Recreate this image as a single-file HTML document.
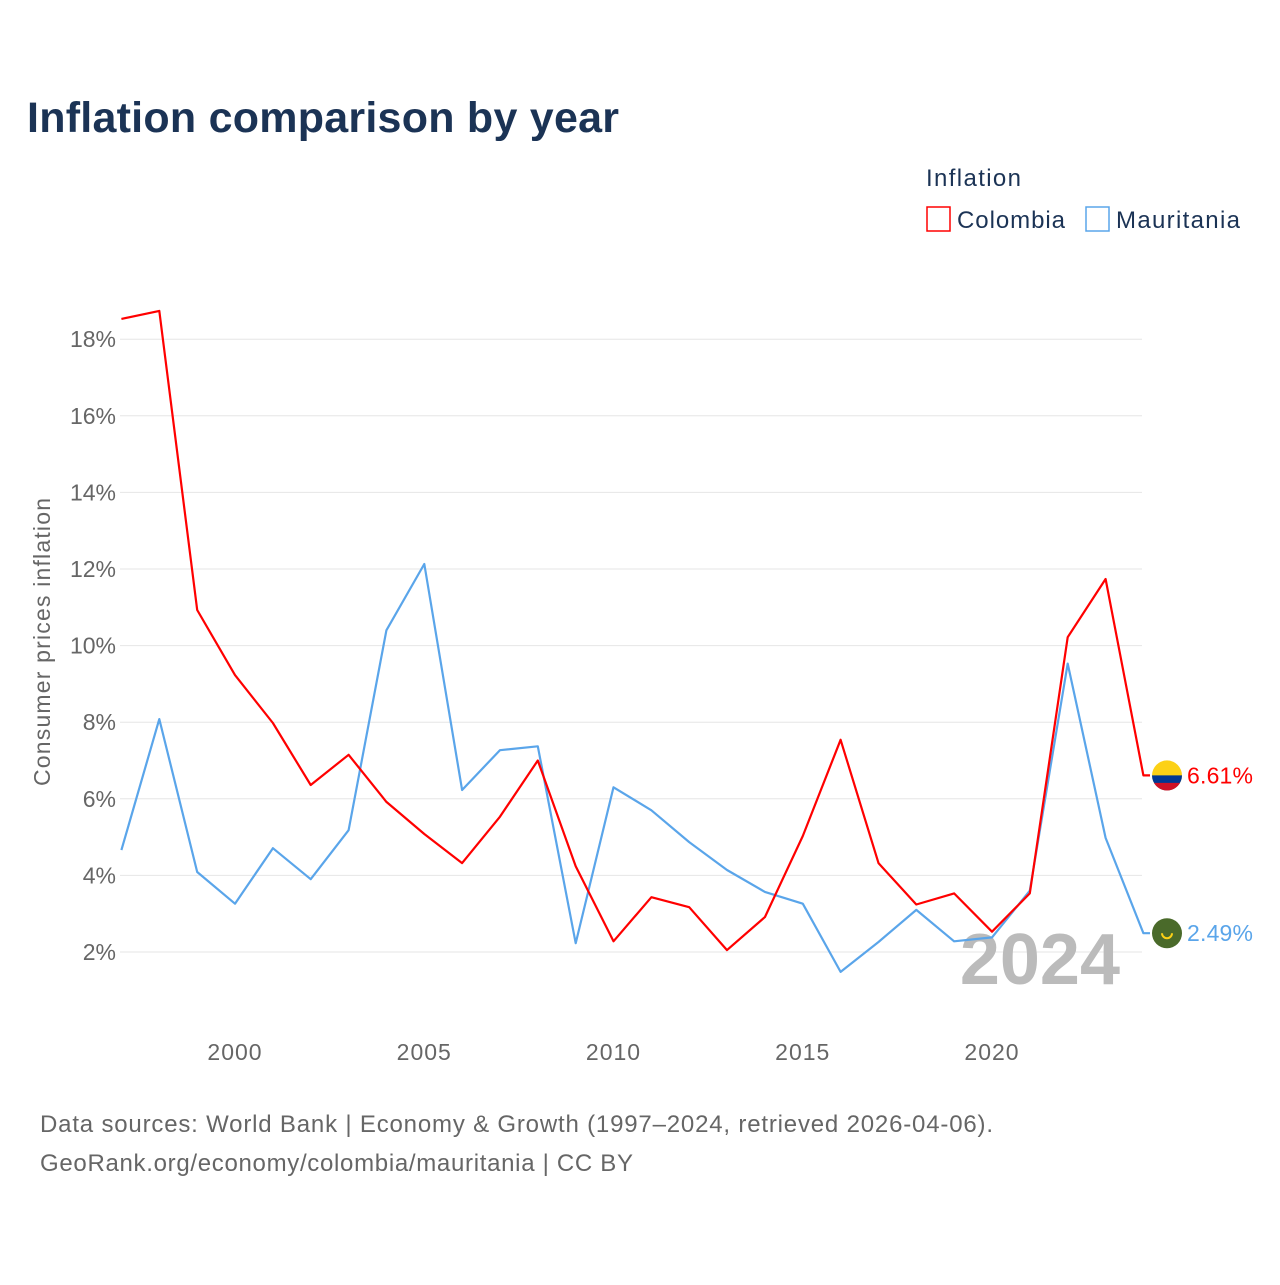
<!DOCTYPE html>
<html><head><meta charset="utf-8"><style>
body{margin:0;background:#fff;font-family:"Liberation Sans",sans-serif}
</style></head><body>
<svg width="1280" height="1280" xmlns="http://www.w3.org/2000/svg" font-family="Liberation Sans, sans-serif">
<text x="27" y="132" font-size="43" font-weight="bold" fill="#1b3355" textLength="592">Inflation comparison by year</text>
<text x="926" y="186" font-size="24" fill="#1b3355" textLength="95">Inflation</text>
<g><rect x="927" y="207" width="23" height="24" fill="none" stroke="#f00" stroke-width="1.5"/><text x="957" y="228" font-size="24" fill="#1b3355" textLength="108">Colombia</text></g>
<g><rect x="1086" y="207" width="23" height="24" fill="none" stroke="#5aa5ea" stroke-width="1.5"/><text x="1116" y="228" font-size="24" fill="#1b3355" textLength="124">Mauritania</text></g>
<g id="grid"></g>
<text transform="translate(50,642) rotate(-90)" text-anchor="middle" font-size="23" fill="#666" textLength="288">Consumer prices inflation</text>
<text x="1120" y="984" text-anchor="end" font-size="72" font-weight="bold" fill="#bbb">2024</text>
<g id="marks"></g>
<text x="40" y="1132" font-size="24" fill="#666" textLength="953">Data sources: World Bank | Economy &amp; Growth (1997–2024, retrieved 2026-04-06).</text>
<text x="40" y="1171" font-size="24" fill="#666" textLength="593">GeoRank.org/economy/colombia/mauritania | CC BY</text>
</svg>
<script>
const years=[1997,1998,1999,2000,2001,2002,2003,2004,2005,2006,2007,2008,2009,2010,2011,2012,2013,2014,2015,2016,2017,2018,2019,2020,2021,2022,2023,2024];
const colombia=[18.53,18.74,10.93,9.23,7.98,6.36,7.15,5.92,5.08,4.32,5.53,7.0,4.24,2.28,3.43,3.17,2.05,2.91,5.03,7.54,4.32,3.24,3.53,2.53,3.53,10.22,11.74,6.61];
const mauritania=[4.66,8.08,4.09,3.26,4.71,3.9,5.18,10.4,12.13,6.23,7.27,7.37,2.23,6.3,5.7,4.87,4.14,3.57,3.26,1.48,2.26,3.1,2.28,2.38,3.6,9.53,4.98,2.49];
const yTicks=[2,4,6,8,10,12,14,16,18];
const xTicks=[2000,2005,2010,2015,2020];
const NS="http://www.w3.org/2000/svg";
const X=y=>235+(y-2000)*37.85;
const Y=v=>1028.6-v*38.3;
const grid=document.getElementById('grid'),marks=document.getElementById('marks');
function mk(tag,attrs,parent){const e=document.createElementNS(NS,tag);for(const k in attrs)e.setAttribute(k,attrs[k]);parent.appendChild(e);return e;}
yTicks.forEach(t=>{
 const l=mk('line',{x1:120,x2:1142,y1:Y(t),y2:Y(t),stroke:'#e6e6e6','stroke-width':1},grid);
 
 
 const tx=mk('text',{x:116,y:Y(t)+8,'text-anchor':'end','font-size':23,fill:'#666'},grid);
 tx.textContent=t+'%';
 
 
});
xTicks.forEach(t=>{
 const tx=mk('text',{x:X(t),y:1060,'text-anchor':'middle','font-size':23,fill:'#666','letter-spacing':1},grid);
 tx.textContent=t;
 
 
});
function series(vals,color,name,flag){
 let d=vals.map((v,i)=>(i?'L':'M')+X(years[i]).toFixed(1)+','+Y(v).toFixed(1)).join(' ');
 const last=vals[vals.length-1];
 d+=' L1150,'+Y(last).toFixed(1);
 const p=mk('path',{d:d,fill:'none',stroke:color,'stroke-width':2.2,'stroke-linejoin':'round'},marks);
 
 
 const g=mk('g',{},marks);
 
 
 const cy=Y(last),cx=1167;
 if(flag==='co'){
  mk('circle',{cx:cx,cy:cy,r:15,fill:'#fcd116'},g);
  mk('path',{d:`M${cx-15},${cy} A15,15 0 0 0 ${cx+15},${cy} Z`,fill:'#003893'},g);
  mk('path',{d:`M${cx-13},${cy+7.5} A15,15 0 0 0 ${cx+13},${cy+7.5} Z`,fill:'#ce1126'},g);
 }else{
  mk('circle',{cx:cx,cy:cy,r:15,fill:'#4a6a2a'},g);
  mk('path',{d:`M${cx-5},${cy} A5,5 0 0 0 ${cx+5},${cy}`,fill:'none',stroke:'#fcd116','stroke-width':2},g);
 }
 const t=mk('text',{x:1187,y:cy+8,'font-size':23,fill:color,textLength:66},marks);
 t.textContent=last.toFixed(2)+'%';
 
 
}
series(mauritania,'#5aa5ea','mauritania','mr');
series(colombia,'#f00','colombia','co');
</script>
</body></html>
